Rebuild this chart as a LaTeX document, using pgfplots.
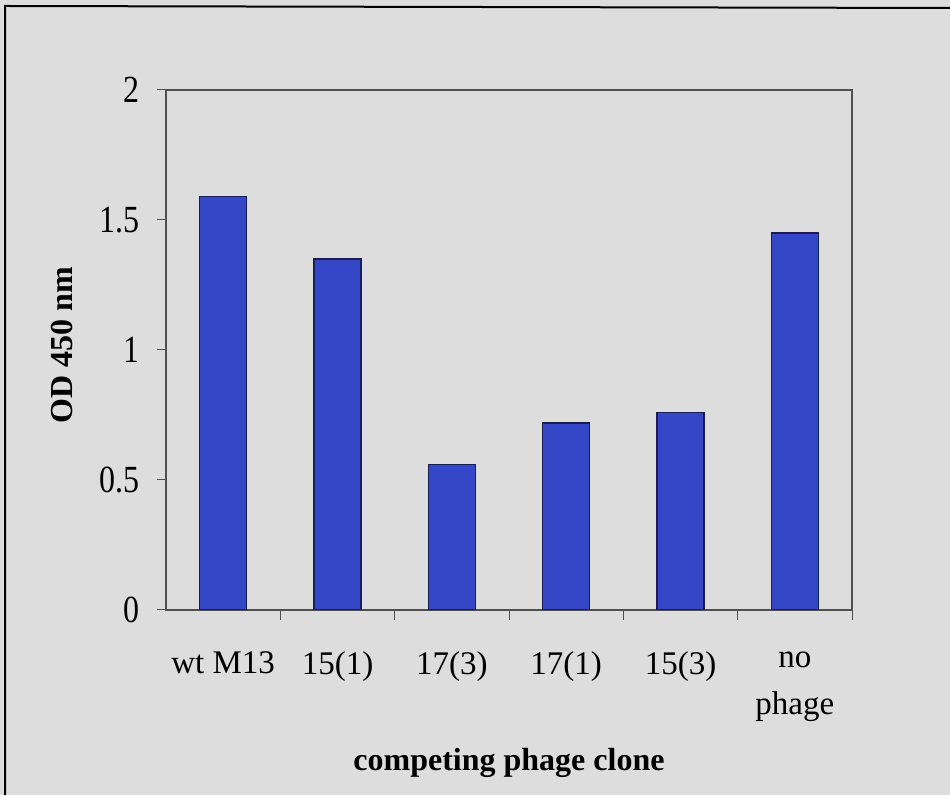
\documentclass[border=0pt]{standalone}
\usepackage{pgfplots}
\pgfplotsset{compat=1.18}
\usepackage{fontspec}
\setmainfont{Liberation Serif}
\definecolor{bg}{HTML}{DDDDDD}
\definecolor{barblue}{HTML}{3447C6}
\definecolor{baredge}{HTML}{1A1C55}
\definecolor{axgray}{HTML}{505050}
\begin{document}
\begin{tikzpicture}[x=1pt,y=1pt]
\fill[bg] (0,0) rectangle (950,795);
\useasboundingbox (0,0) rectangle (950,795);
\draw[black,line width=2pt] (5,0) -- (5,789) -- (950,787);
\begin{axis}[
  at={(166pt,185pt)}, anchor=south west,
  scale only axis, width=686pt, height=520pt,
  xmin=0.5, xmax=6.5, ymin=0, ymax=2,
  ytick={0,0.5,1,1.5,2},
  yticklabel={\scalebox{1}[1.2]{\pgfmathprintnumber{\tick}}},
  xtick={1,...,6},
  xticklabels={wt M13,15(1),17(3),17(1),15(3),no\\phage},
  minor xtick={1.5,2.5,3.5,4.5,5.5,6.5},
  tick pos=left, tick align=outside,
  major tick length=9pt, minor tick length=10pt,
  x tick style={draw=none}, minor x tick style={draw=axgray, line width=1pt},
  y tick style={draw=axgray, line width=1pt},
  axis line style={draw=axgray, line width=1.2pt},
  /pgf/number format/assume math mode=true,
  yticklabel style={font=\fontsize{32}{36}\selectfont, xshift=-14pt},
  xticklabel style={font=\fontsize{33}{47}\selectfont, align=center, anchor=north, yshift=-29pt},
  ybar, bar width=0.41,
]
\addplot[fill=barblue, draw=baredge, line width=1.5pt] coordinates {
  (1,1.59) (2,1.35) (3,0.56) (4,0.72) (5,0.76) (6,1.45)
};
\end{axis}
\node[font=\bfseries\fontsize{32}{38}\selectfont, anchor=base] at (509,25) {competing phage clone};
\node[font=\bfseries\fontsize{32}{38}\selectfont, rotate=90] at (62,450) {OD 450 nm};
\end{tikzpicture}
\end{document}
